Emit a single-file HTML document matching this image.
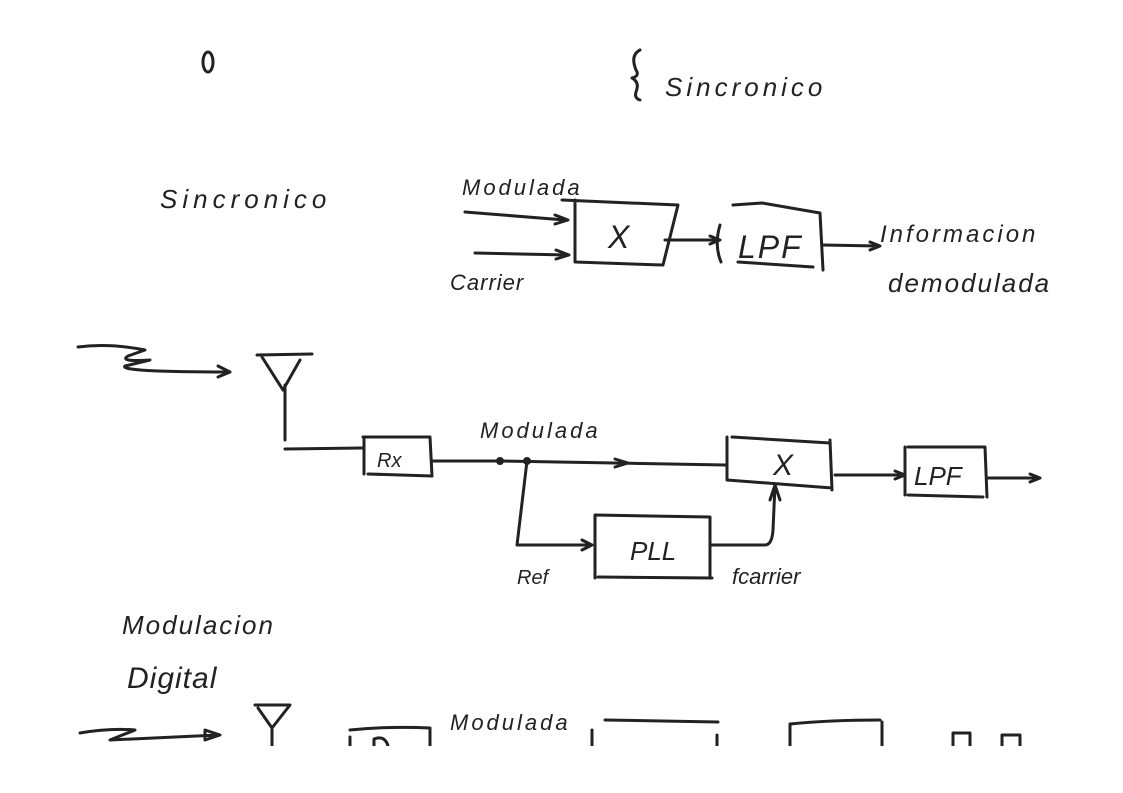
<!DOCTYPE html>
<html><head><meta charset="utf-8"><style>
html,body{margin:0;padding:0;background:#fff;width:1123px;height:793px;overflow:hidden}
svg text{font-family:"Liberation Sans",sans-serif;fill:#222;font-style:italic}
</style></head><body>
<svg width="1123" height="793" viewBox="0 0 1123 793" xmlns="http://www.w3.org/2000/svg">
<g fill="none" stroke="#222" stroke-width="3" stroke-linecap="round" stroke-linejoin="round">
<!-- top -->
<ellipse cx="208" cy="62" rx="5" ry="10"/>
<path d="M640 50 Q630 55 636 70 Q640 76 632 78 Q640 82 636 92 Q634 98 640 100"/>
<!-- sincronico block diagram -->
<path d="M465 212 L565 220 M555 215 L568 220 L555 224"/>
<path d="M475 253 L568 255 M556 250 L569 255 L556 259"/>
<path d="M575 200 L575 262 M562 200 L678 205 M678 205 L663 265 M575 262 L662 265"/>
<path d="M665 240 L718 240 M710 236 L720 240 L710 244"/>
<path d="M720 225 Q714 245 721 262 M733 205 L762 203 L820 213 M820 213 L823 270 M738 262 L813 267"/>
<path d="M822 245 L878 246 M870 242 L880 246 L870 250"/>
<!-- receiver chain -->
<path d="M78 347 Q110 343 145 350 L128 356 Q118 362 150 360 L125 366 Q118 372 230 372 M218 366 L230 372 L218 377"/>
<path d="M257 355 L312 354 M262 357 L283 390 L300 360 M285 385 L285 440 M285 449 L362 448"/>
<path d="M364 437 L364 474 M363 437 L430 437 M430 437 L432 476 M368 474 L432 476"/>
<path d="M432 461 L500 461 L725 465 M615 459 L628 463 L615 467"/>
<circle cx="500" cy="461" r="2.5" fill="#222"/><circle cx="527" cy="461" r="2.5" fill="#222"/>
<path d="M727 437 L727 480 M732 437 L830 443 M830 440 L832 490 M727 480 L832 488"/>
<path d="M835 475 L905 475 M895 471 L905 475 L895 479"/>
<path d="M905 447 L905 495 M908 447 L985 447 M985 447 L987 497 M908 495 L983 497"/>
<path d="M988 478 L1040 478 M1030 474 L1040 478 L1030 482"/>
<path d="M527 461 L517 545 L592 545 M582 540 L592 545 L582 550"/>
<path d="M595 515 L595 578 M595 515 L710 517 M710 517 L710 578 M598 577 L712 578"/>
<path d="M712 545 L765 545 Q772 545 773 530 L775 485 M770 500 L775 485 L780 500"/>
<!-- bottom -->
<path d="M80 733 Q110 728 135 730 L110 740 L218 735 M205 730 L220 735 L205 740 Z"/>
<path d="M255 705 L290 705 L272 728 L258 708 M272 728 L272 746"/>
<path d="M350 730 Q390 726 430 728 M350 737 L350 746 M430 728 L430 746"/>
<path d="M374 746 L374 739 Q385 735 388 746"/>
<path d="M592 730 L592 746 M605 720 L718 722 M717 735 L717 746"/>
<path d="M790 724 L790 746 M790 724 Q830 720 880 720 M882 722 L882 746"/>
<path d="M953 746 L953 733 L970 733 L970 746 M1002 746 L1002 735 L1020 735 L1020 746"/>
</g>
<text x="665" y="96" font-size="26" letter-spacing="4">Sincronico</text>
<text x="160" y="208" font-size="26" letter-spacing="5">Sincronico</text>
<text x="462" y="195" font-size="22" letter-spacing="3">Modulada</text>
<text x="450" y="290" font-size="22" letter-spacing="1">Carrier</text>
<text x="608" y="248" font-size="32" font-style="normal">X</text>
<text x="738" y="258" font-size="32" font-style="normal" letter-spacing="2">LPF</text>
<text x="880" y="242" font-size="24" letter-spacing="3">Informacion</text>
<text x="888" y="292" font-size="26" letter-spacing="2">demodulada</text>
<text x="480" y="438" font-size="22" letter-spacing="3">Modulada</text>
<text x="377" y="467" font-size="20">Rx</text>
<text x="773" y="475" font-size="30" font-style="normal">X</text>
<text x="914" y="485" font-size="26" font-style="normal">LPF</text>
<text x="630" y="560" font-size="26" font-style="normal">PLL</text>
<text x="517" y="584" font-size="20">Ref</text>
<text x="732" y="584" font-size="22">fcarrier</text>
<text x="122" y="634" font-size="26" letter-spacing="2">Modulacion</text>
<text x="127" y="688" font-size="30" letter-spacing="1">Digital</text>
<text x="450" y="730" font-size="22" letter-spacing="3">Modulada</text>
<rect x="0" y="746" width="1123" height="47" fill="#fff"/>
</svg>
</body></html>
